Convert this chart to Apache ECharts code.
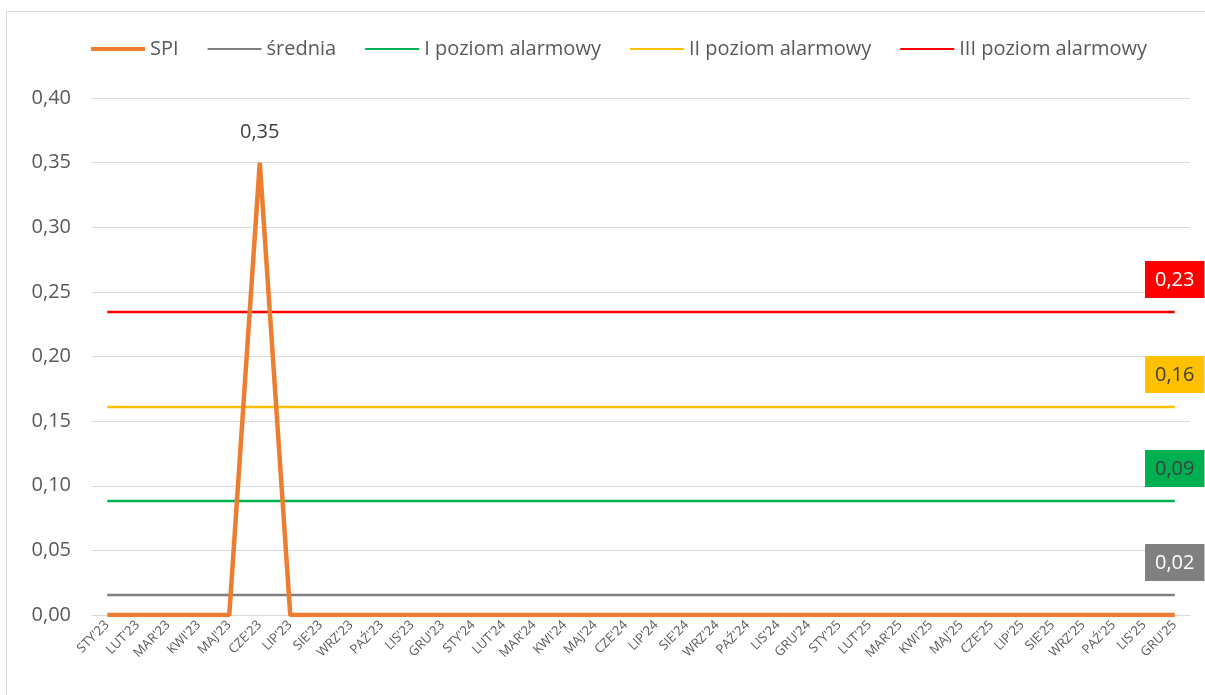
<!DOCTYPE html>
<html>
<head>
<meta charset="utf-8">
<script src="https://cdn.jsdelivr.net/npm/echarts@6/dist/echarts.min.js"></script>
<style>
  html, body { margin: 0; padding: 0; background: #fff; }
  #chart { width: 1205px; height: 695px; }
</style>
</head>
<body>
<div id="chart"></div>
<script>
// miesiące (oś X)
var months = ["STY'23","LUT'23","MAR'23","KWI'23","MAJ'23","CZE'23","LIP'23","SIE'23","WRZ'23","PAŹ'23","LIS'23","GRU'23",
              "STY'24","LUT'24","MAR'24","KWI'24","MAJ'24","CZE'24","LIP'24","SIE'24","WRZ'24","PAŹ'24","LIS'24","GRU'24",
              "STY'25","LUT'25","MAR'25","KWI'25","MAJ'25","CZE'25","LIP'25","SIE'25","WRZ'25","PAŹ'25","LIS'25","GRU'25"];
// SPI - wartości miesięczne
var spi = [0,0,0,0,0,0.35,0,0,0,0,0,0, 0,0,0,0,0,0,0,0,0,0,0,0, 0,0,0,0,0,0,0,0,0,0,0,0];
// poziomy stałe
var srednia = 0.0155;
var poziom1 = 0.0882;
var poziom2 = 0.1609;
var poziom3 = 0.2344;

function fmt(v){ return v.toFixed(2).replace('.', ','); }

// linia stała, etykieta w ramce tylko na ostatnim punkcie
function flat(v, bg, fg){
    var arr = [];
    for (var i = 0; i < months.length - 1; i++) arr.push(v);
    arr.push({
        value: v,
        label: {
            show: true,
            position: 'top',
            distance: 14,
            backgroundColor: bg,
            color: fg,
            fontSize: 20,
            padding: [9, 10, 8, 10],
            formatter: function(p){ return fmt(p.value); }
        }
    });
    return arr;
}

var font = 'Open Sans';
var legendIcon = function(h){ return 'path://M0,0 L54,0 L54,' + h + ' L0,' + h + ' Z'; };
var myChart = echarts.init(document.getElementById('chart'));
myChart.setOption({
    animation: false,
    textStyle: { fontFamily: font },
    graphic: [{
        type: 'rect',
        shape: { x: 6.5, y: 11.5, width: 1300, height: 800 },
        style: { fill: 'none', stroke: '#d9d9d9', lineWidth: 1 },
        silent: true
    }],
    legend: {
        top: 34,
        left: 86,
        itemWidth: 54,
        itemHeight: 14,
        itemGap: 29,
        textStyle: { fontSize: 20, color: '#595959', fontFamily: font },
        data: [
            { name: 'SPI', icon: legendIcon(4) },
            { name: 'średnia', icon: legendIcon(2) },
            { name: 'I poziom alarmowy', icon: legendIcon(2) },
            { name: 'II poziom alarmowy', icon: legendIcon(2) },
            { name: 'III poziom alarmowy', icon: legendIcon(2) }
        ]
    },
    grid: { left: 92, right: 15, top: 98, bottom: 80, containLabel: false },
    xAxis: {
        type: 'category',
        data: months,
        boundaryGap: true,
        axisLine: { show: true, lineStyle: { color: '#d9d9d9', width: 1 } },
        axisTick: { show: false },
        axisLabel: { rotate: 45, interval: 0, fontSize: 13, color: '#595959', margin: 8 }
    },
    yAxis: {
        type: 'value',
        min: 0,
        max: 0.4,
        interval: 0.05,
        axisLine: { show: false },
        axisTick: { show: false },
        splitLine: { lineStyle: { color: '#d9d9d9', width: 1 } },
        axisLabel: { fontSize: 20, color: '#595959', margin: 21, formatter: fmt }
    },
    series: [
        {
            name: 'średnia', type: 'line', data: flat(srednia, '#808080', '#ffffff'),
            symbol: 'circle', symbolSize: 0,
            lineStyle: { color: '#808080', width: 2.5 }, itemStyle: { color: '#808080' }
        },
        {
            name: 'I poziom alarmowy', type: 'line', data: flat(poziom1, '#00B050', '#404040'),
            symbol: 'circle', symbolSize: 0,
            lineStyle: { color: '#00B050', width: 2.5 }, itemStyle: { color: '#00B050' }
        },
        {
            name: 'II poziom alarmowy', type: 'line', data: flat(poziom2, '#FFC000', '#404040'),
            symbol: 'circle', symbolSize: 0,
            lineStyle: { color: '#FFC000', width: 2.5 }, itemStyle: { color: '#FFC000' }
        },
        {
            name: 'III poziom alarmowy', type: 'line', data: flat(poziom3, '#FF0000', '#ffffff'),
            symbol: 'circle', symbolSize: 0,
            lineStyle: { color: '#FF0000', width: 2.5 }, itemStyle: { color: '#FF0000' }
        },
        {
            name: 'SPI', type: 'line', data: spi, symbol: 'circle', symbolSize: 0,
            lineStyle: { color: '#ED7D31', width: 4.5 }, itemStyle: { color: '#ED7D31' },
            label: {
                show: true, position: 'top', distance: 20, fontSize: 20, color: '#404040',
                formatter: function(p){ return p.value > 0 ? fmt(p.value) : ''; }
            },
            z: 5
        }
    ]
});
</script>
</body>
</html>
